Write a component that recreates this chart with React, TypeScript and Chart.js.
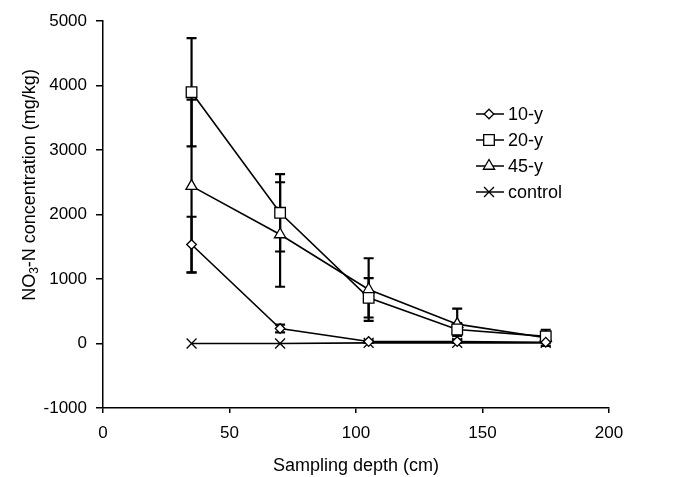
import React, { useEffect, useRef } from 'react';
import { Chart, registerables } from 'chart.js';
Chart.register(...registerables);

const depths = [35, 70, 105, 140, 175];
const seriesNames = ['10-y', '20-y', '45-y', 'control'];
const values10 = [1535, 232, 30, 30, 20];
const err10 = [430, 60, 20, 20, 15];
const values20 = [3896, 2026, 708, 217, 110];
const err20 = [840, 600, 305, 100, 60];
const values45 = [2440, 1690, 837, 300, 88];
const err45 = [1340, 810, 485, 240, 125];
const valuesControl = [0, 0, 10, 10, 10];
const xTitle = 'Sampling depth (cm)';
const yTitleParts = ['NO', '3', '-N concentration (mg/kg)'];

const FONT = '"Liberation Sans", Arial, sans-serif';
const styles = ['rectRot', 'rect', 'triangle', 'crossRot'];
const radii = [4.8, 7.5, 6.5, 7];
const allValues = [values10, values20, values45, valuesControl];
const allErrs = [err10, err20, err45, null];

function drawMarker(ctx: CanvasRenderingContext2D, style: string, r: number, x: number, y: number) {
  ctx.save();
  ctx.fillStyle = '#fff';
  ctx.strokeStyle = '#000';
  ctx.lineWidth = 1.3;
  ctx.beginPath();
  if (style === 'rectRot') {
    ctx.moveTo(x, y - r); ctx.lineTo(x + r, y); ctx.lineTo(x, y + r); ctx.lineTo(x - r, y); ctx.closePath();
    ctx.fill(); ctx.stroke();
  } else if (style === 'rect') {
    const s = r * Math.SQRT1_2;
    ctx.rect(x - s, y - s, 2 * s, 2 * s); ctx.fill(); ctx.stroke();
  } else if (style === 'triangle') {
    const h = r * 0.866;
    ctx.moveTo(x, y - r); ctx.lineTo(x + h, y + r / 2); ctx.lineTo(x - h, y + r / 2); ctx.closePath();
    ctx.fill(); ctx.stroke();
  } else {
    const s = r * Math.SQRT1_2;
    ctx.moveTo(x - s, y - s); ctx.lineTo(x + s, y + s); ctx.moveTo(x + s, y - s); ctx.lineTo(x - s, y + s);
    ctx.stroke();
  }
  ctx.restore();
}

const errorBarPlugin = {
  id: 'errorBars',
  beforeDatasetsDraw(chart: any) {
    const { ctx, scales } = chart;
    ctx.save();
    ctx.strokeStyle = '#000';
    ctx.lineWidth = 2.2;
    allErrs.forEach((errs, si) => {
      if (!errs) return;
      const vals = allValues[si];
      depths.forEach((d, i) => {
        const x = scales.x.getPixelForValue(d);
        const yt = scales.y.getPixelForValue(vals[i] + errs[i]);
        const yb = scales.y.getPixelForValue(vals[i] - errs[i]);
        ctx.beginPath();
        ctx.moveTo(x, yt); ctx.lineTo(x, yb);
        ctx.moveTo(x - 5, yt); ctx.lineTo(x + 5, yt);
        ctx.moveTo(x - 5, yb); ctx.lineTo(x + 5, yb);
        ctx.stroke();
      });
    });
    ctx.restore();
  },
};

const annotationsPlugin = {
  id: 'annotations',
  afterDraw(chart: any) {
    const { ctx, chartArea } = chart;
    ctx.save();
    // legend
    const lx = chartArea.right - 133;
    const ly0 = chartArea.top + 93;
    seriesNames.forEach((name, i) => {
      const y = ly0 + i * 26;
      ctx.strokeStyle = '#000';
      ctx.lineWidth = 1.5;
      ctx.beginPath();
      ctx.moveTo(lx, y); ctx.lineTo(lx + 28, y); ctx.stroke();
      drawMarker(ctx, styles[i], radii[i], lx + 13, y);
      ctx.fillStyle = '#000';
      ctx.font = `18px ${FONT}`;
      ctx.textAlign = 'left';
      ctx.textBaseline = 'middle';
      ctx.fillText(name, lx + 32, y + 1);
    });
    // x title
    ctx.font = `18px ${FONT}`;
    ctx.textAlign = 'center';
    ctx.textBaseline = 'middle';
    ctx.fillText(xTitle, (chartArea.left + chartArea.right) / 2, chartArea.bottom + 58);
    // y title with subscript
    ctx.translate(30, 185);
    ctx.rotate(-Math.PI / 2);
    const big = `18px ${FONT}`;
    const small = `12px ${FONT}`;
    ctx.font = big; const w0 = ctx.measureText(yTitleParts[0]).width;
    ctx.font = small; const w1 = ctx.measureText(yTitleParts[1]).width;
    ctx.font = big; const w2 = ctx.measureText(yTitleParts[2]).width;
    let x = -(w0 + w1 + w2) / 2;
    ctx.textAlign = 'left';
    ctx.textBaseline = 'middle';
    ctx.font = big; ctx.fillText(yTitleParts[0], x, 0); x += w0;
    ctx.font = small; ctx.fillText(yTitleParts[1], x, 5); x += w1;
    ctx.font = big; ctx.fillText(yTitleParts[2], x, 0);
    ctx.restore();
  },
};

export default function App() {
  const ref = useRef<HTMLCanvasElement>(null);
  useEffect(() => {
    if (!ref.current) return;
    const chart = new Chart(ref.current, {
      type: 'line',
      data: {
        datasets: allValues.map((vals, si) => ({
          label: seriesNames[si],
          data: depths.map((d, i) => ({ x: d, y: vals[i] })),
          borderColor: '#000',
          borderWidth: 1.6,
          pointStyle: styles[si] as any,
          pointRadius: radii[si],
          pointHoverRadius: radii[si],
          pointBackgroundColor: '#fff',
          pointBorderColor: '#000',
          pointBorderWidth: 1.3,
          tension: 0,
        })),
      },
      options: {
        responsive: false,
        animation: false,
        layout: { padding: { top: 21, right: 87, left: 0, bottom: 0 } },
        plugins: { legend: { display: false }, tooltip: { enabled: false } },
        scales: {
          x: {
            type: 'linear',
            min: 0,
            max: 200,
            afterFit: (s: any) => { s.height = 69; },
            ticks: { stepSize: 50, color: '#000', font: { family: FONT, size: 17 }, padding: 10, maxRotation: 0, callback: (v: any) => String(v) },
            grid: { drawOnChartArea: false, drawTicks: true, tickLength: 5, color: '#000', lineWidth: 1.5 },
            border: { display: true, color: '#000', width: 1.5 },
          },
          y: {
            type: 'linear',
            min: -1000,
            max: 5000,
            afterFit: (s: any) => { s.width = 103; },
            ticks: { stepSize: 1000, color: '#000', font: { family: FONT, size: 17 }, padding: 9, callback: (v: any) => String(v) },
            grid: { drawOnChartArea: false, drawTicks: true, tickLength: 7, color: '#000', lineWidth: 1.5 },
            border: { display: true, color: '#000', width: 1.5 },
          },
        },
      },
      plugins: [errorBarPlugin, annotationsPlugin],
    });
    return () => chart.destroy();
  }, []);
  return (
    <div style={{ position: 'fixed', left: 0, top: 0, width: 696, height: 477, background: '#fff' }}>
      <canvas ref={ref} width={696} height={477} style={{ width: 696, height: 477 }} />
    </div>
  );
}
